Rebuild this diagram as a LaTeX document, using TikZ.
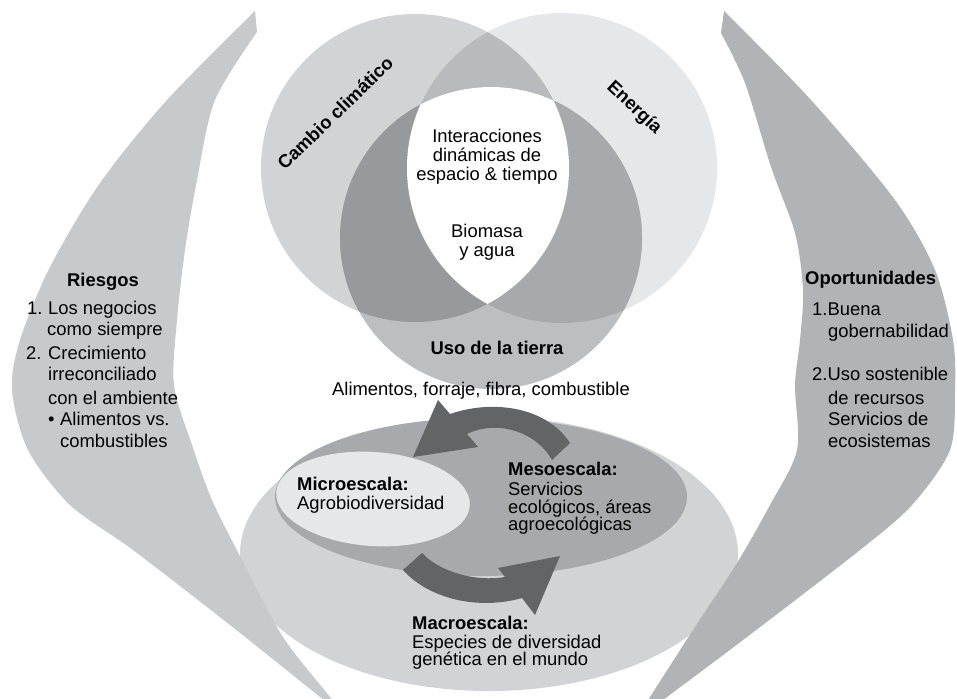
\documentclass[tikz,border=0pt]{standalone}
\usepackage{fontspec}
\setmainfont{Liberation Sans}
\definecolor{colA}{HTML}{D1D3D4}
\definecolor{colB}{HTML}{E6E7E8}
\definecolor{colC}{HTML}{BCBEC0}
\definecolor{colAB}{HTML}{B9BABD}
\definecolor{colAC}{HTML}{98999C}
\definecolor{colBC}{HTML}{A7A9AC}
\definecolor{colBig}{HTML}{D1D3D4}
\definecolor{colMid}{HTML}{A7A9AC}
\definecolor{colMicro}{HTML}{E6E7E8}
\definecolor{colArrow}{HTML}{636466}
\definecolor{colLeft}{HTML}{C8C9CB}
\definecolor{colRight}{HTML}{B1B3B6}
\begin{document}
\begin{tikzpicture}[x=1pt,y=-1pt,
  txt/.style={inner sep=0pt, font=\fontsize{18.4}{19}\selectfont},
  btxt/.style={inner sep=0pt, font=\fontsize{18.4}{19}\selectfont\bfseries},
  item/.style={txt, anchor=mid west},
  bitem/.style={btxt, anchor=mid west},
  blockarrow/.style={fill=colArrow}]
\useasboundingbox (0,0) rectangle (957,698);

% three overlapping circles
\fill[colA] (415,168) circle[radius=154];
\fill[colB] (562,168) circle[radius=155];
\fill[colC] (491,238) circle[radius=151];
\begin{scope}
  \clip (415,168) circle[radius=154];
  \fill[colAB] (562,168) circle[radius=155];
\end{scope}
\begin{scope}
  \clip (415,168) circle[radius=154];
  \fill[colAC] (491,238) circle[radius=151];
\end{scope}
\begin{scope}
  \clip (562,168) circle[radius=155];
  \fill[colBC] (491,238) circle[radius=151];
\end{scope}
\begin{scope}
  \clip (415,168) circle[radius=154];
  \clip (562,168) circle[radius=155];
  \fill[white] (491,238) circle[radius=151];
\end{scope}

% nested scale ellipses
\fill[colBig] (489,554) ellipse[x radius=249, y radius=137];
\fill[colMid] (481,497) ellipse[x radius=206, y radius=79];
\fill[colMicro, rotate around={-4:(373,499)}] (373,499) ellipse[x radius=97, y radius=47];

% cycle arrows
\fill[blockarrow] (570,443) .. controls (545,405) and (490,400) .. (450,414)
  -- (438,400) -- (413,457) -- (478,447) -- (467,434)
  .. controls (495,420) and (535,430) .. (552,460) -- cycle;
\fill[blockarrow] (422,553) .. controls (440,572) and (475,582) .. (505,577)
  -- (498,568) -- (560,556) -- (535,615) -- (522,598)
  .. controls (480,610) and (430,600) .. (403,570) -- cycle;

% side crescents
\fill[colLeft] plot[smooth] coordinates {(255,11) (167,100) (100,183) (50,267) (20,340) (12,390) (28,450) (70,505) (133,550) (230,625) (320,697) (345,717)}
  -- plot[smooth] coordinates {(345,717) (330,697) (283,637) (242,560) (212,500) (192,445) (174,385) (177,320) (185,250) (197,180) (215,100) (257,32)} -- cycle;
\fill[colRight] plot[smooth] coordinates {(724,11) (811,100) (895,200) (935,270) (953,340) (955,390) (950,450) (912,505) (860,550) (747,637) (667,697) (634,722)}
  -- plot[smooth] coordinates {(634,722) (650,697) (693,630) (737,563) (770,505) (797,450) (795,385) (800,340) (803,290) (795,233) (771,167) (745,83) (721,33)} -- cycle;

% circle labels
\node[btxt, rotate=44] (cambio) at (335,113) {Cambio climático};
\node[btxt, rotate=-43] (energia) at (634,108) {Energía};
\node[txt, align=center] (inter) at (487,157) {Interacciones\\dinámicas de\\espacio \& tiempo};
\node[txt, align=center] (biomasa) at (487,242) {Biomasa\\y agua};
\node[btxt] (uso) at (497,348) {Uso de la tierra};
\node[txt] (alimentos) at (481,391) {Alimentos, forraje, fibra, combustible};

% scale labels
\node[bitem] (micro) at (297,488) {Microescala:};
\node[item] (microt) at (297,507) {Agrobiodiversidad};
\node[bitem] (meso) at (508,473) {Mesoescala:};
\node[item] (meso1) at (508,493) {Servicios};
\node[item] (meso2) at (508,511) {ecológicos, áreas};
\node[item] (meso3) at (508,528) {agroecológicas};
\node[bitem] (macro) at (412,627) {Macroescala:};
\node[item] (macro1) at (412,646) {Especies de diversidad};
\node[item] (macro2) at (412,663) {genética en el mundo};

% risks
\node[btxt] (riesgos) at (103,282) {Riesgos};
\node[item] (r1n) at (27,312) {1.};
\node[item] (r1a) at (48,312) {Los negocios};
\node[item] (r1b) at (47,333) {como siempre};
\node[item] (r2n) at (26,357) {2.};
\node[item] (r2a) at (48,357) {Crecimiento};
\node[item] (r2b) at (48,378) {irreconciliado};
\node[item] (r2c) at (48,402) {con el ambiente};
\node[item] (rbul) at (48,423) {•};
\node[item] (r3a) at (60,423) {Alimentos vs.};
\node[item] (r3b) at (60,445) {combustibles};

% opportunities
\node[bitem] (oport) at (805,282) {Oportunidades};
\node[item] (o1a) at (812,313) {1.Buena};
\node[item] (o1b) at (828,335) {gobernabilidad};
\node[item] (o2a) at (812,378) {2.Uso sostenible};
\node[item] (o2b) at (828,402) {de recursos};
\node[item] (o2c) at (828,423) {Servicios de};
\node[item] (o2d) at (828,445) {ecosistemas};
\end{tikzpicture}
\end{document}
